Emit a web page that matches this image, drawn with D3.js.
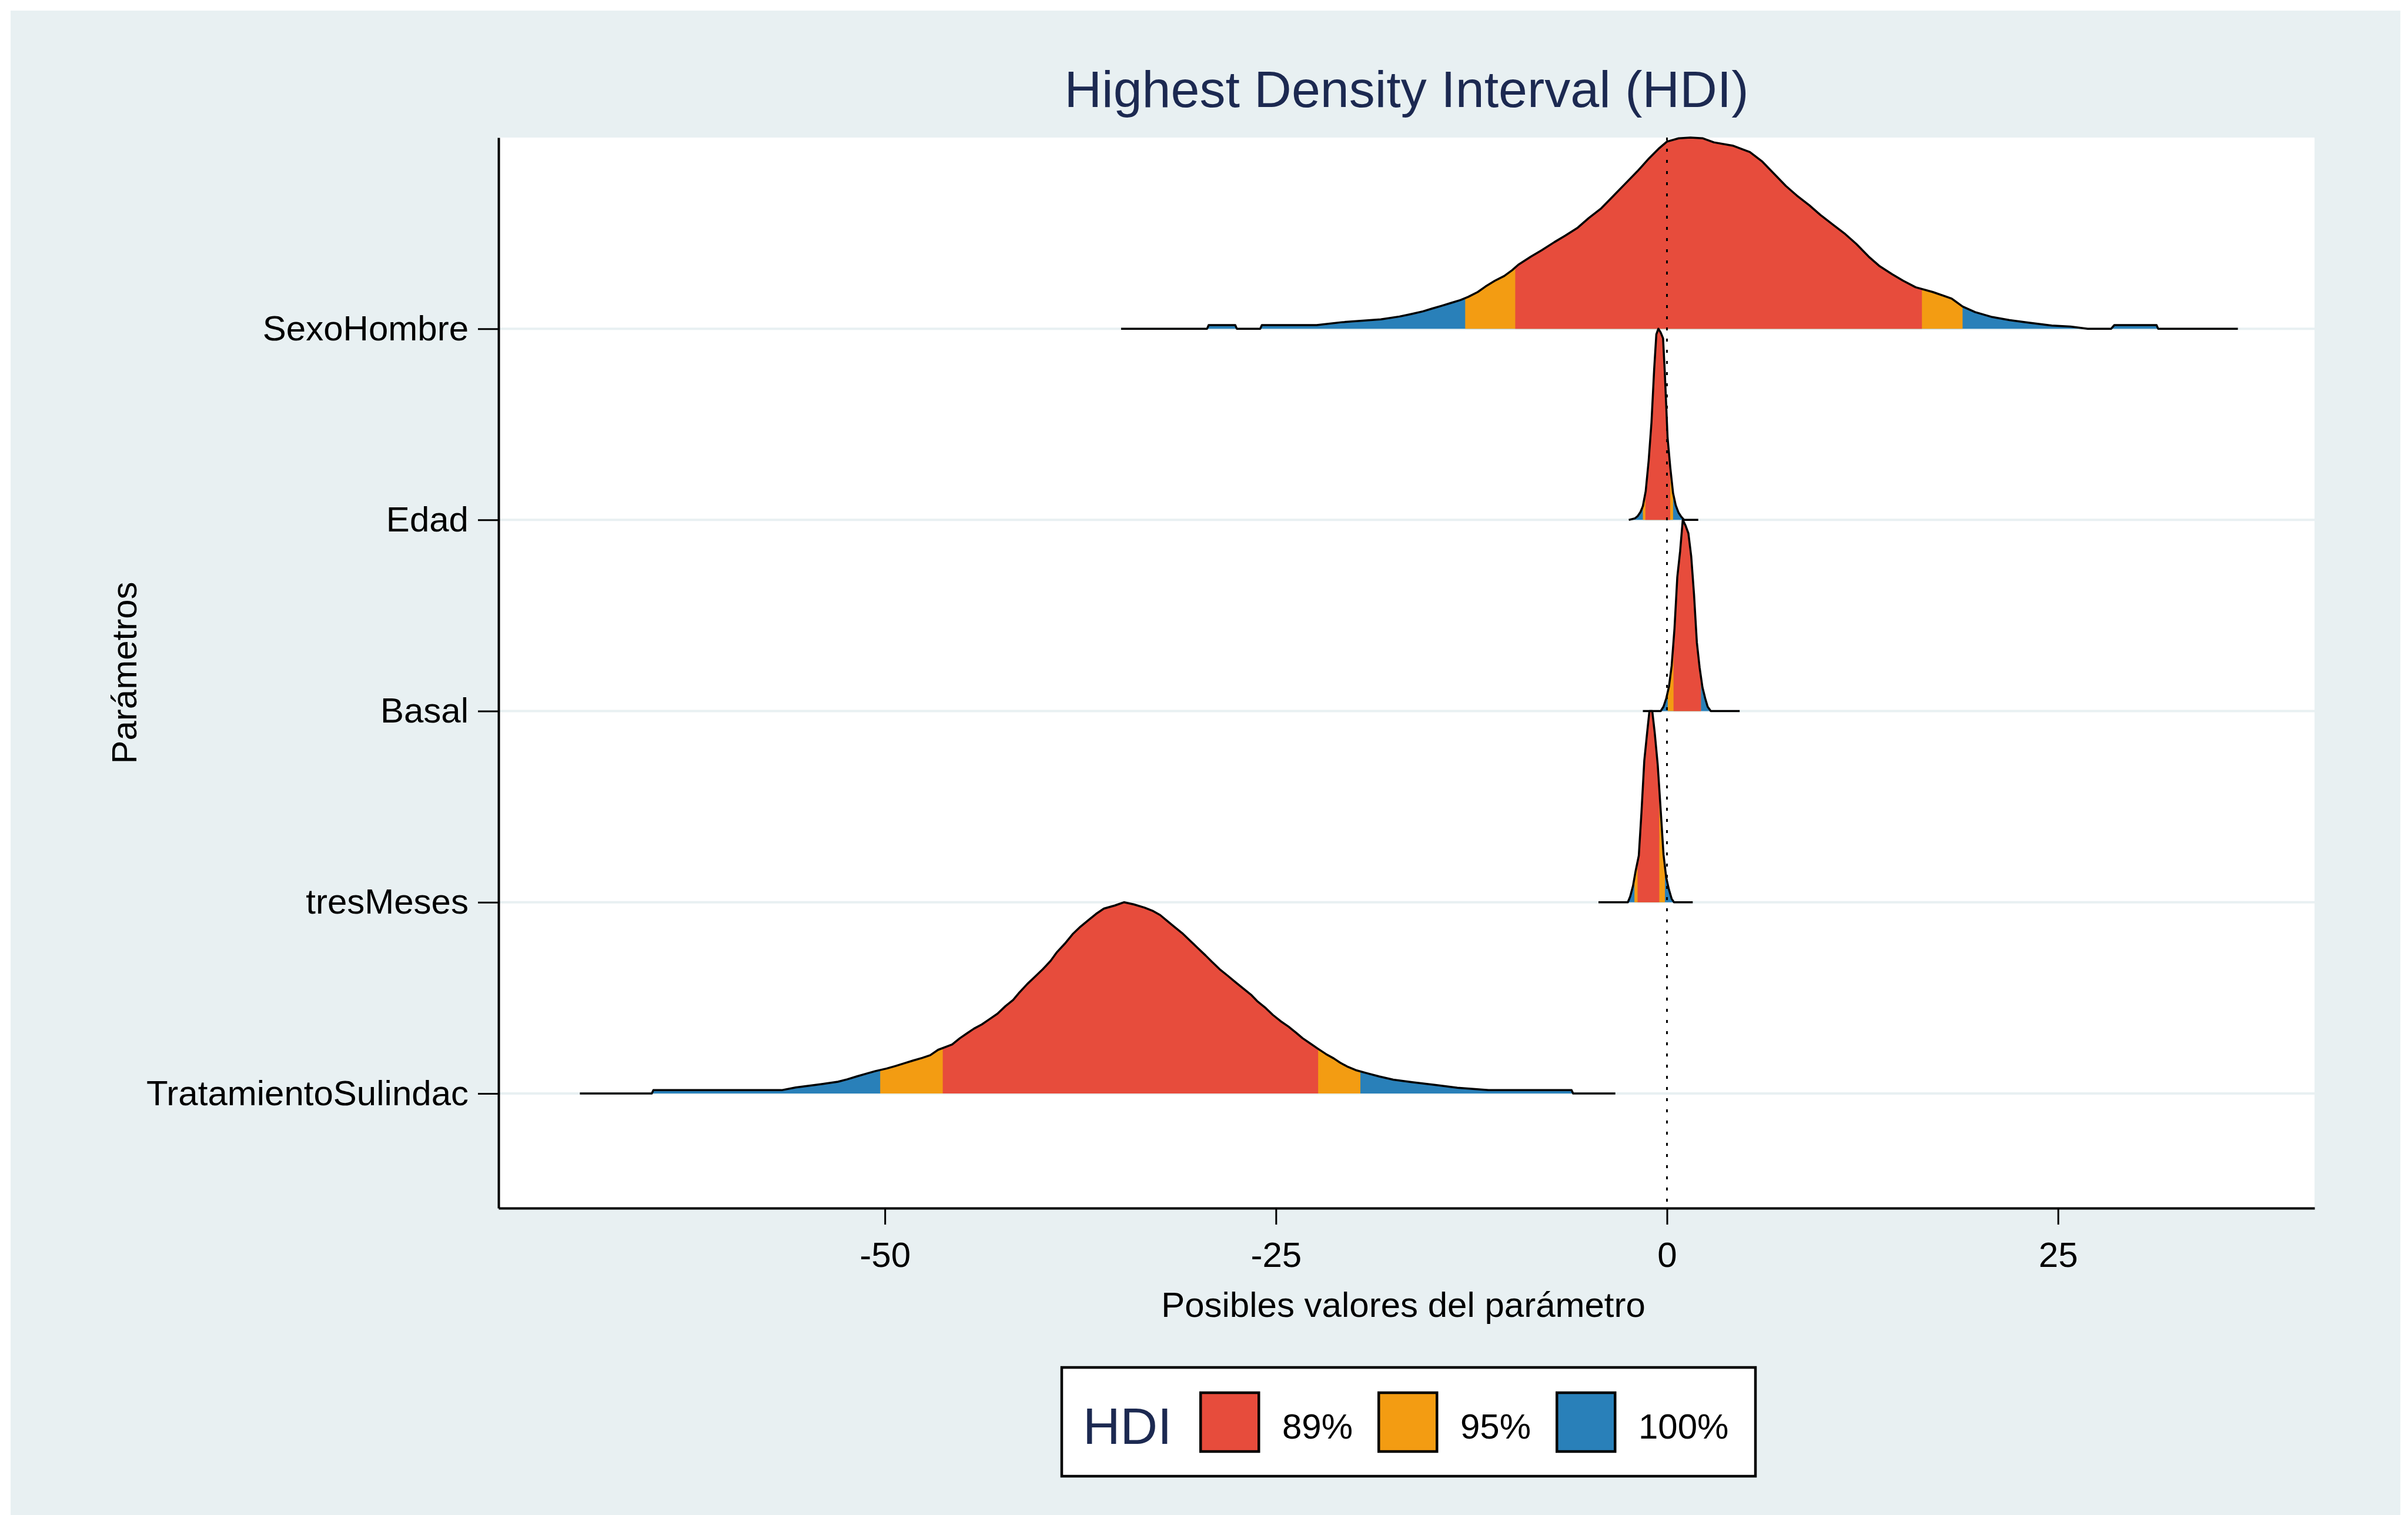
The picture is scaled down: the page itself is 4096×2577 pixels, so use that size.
<!DOCTYPE html>
<meta charset="utf-8">
<head>
  <title>Highest Density Interval (HDI)</title>
</head>
<style>
  html, body {
    margin: 0;
    padding: 0;
    background: #fff;
    overflow: hidden;
  }
  svg {
    display: block;
    font-family: Arial, "Liberation Sans", Helvetica, sans-serif;
  }
</style>
<body>
<svg id="chart" width="4096" height="2577"></svg>
<script src="https://cdn.jsdelivr.net/npm/d3@7"></script>
<script>
// parameters, bottom row first (row index = position + 1)
var params = ['TratamientoSulindac', 'tresMeses', 'Basal', 'Edad', 'SexoHombre'];

// posterior densities: [value, height relative to the peak]
var tratamientoSulindac = [
  [-69.5,0],[-64.9,0],[-64.8,0.017],[-56.6,0.017],[-55.7,0.031],[-54.1,0.048],[-53.0,0.061],
  [-52.4,0.074],[-51.8,0.089],[-51.2,0.103],[-50.6,0.117],[-49.9,0.13],[-49.3,0.144],[-48.7,0.159],
  [-48.2,0.172],[-47.6,0.186],[-47.1,0.2],[-46.6,0.228],[-45.7,0.256],[-45.2,0.289],[-44.7,0.317],
  [-44.3,0.339],[-43.8,0.361],[-43.3,0.389],[-42.8,0.417],[-42.3,0.456],[-41.8,0.489],[-41.4,0.528],
  [-40.9,0.572],[-40.4,0.611],[-39.9,0.65],[-39.4,0.694],[-39.0,0.739],[-38.5,0.783],[-38.0,0.833],
  [-37.5,0.872],[-37.0,0.906],[-36.5,0.939],[-36.0,0.967],[-35.3,0.983],[-34.7,1.0],[-34.1,0.989],
  [-33.4,0.972],[-32.9,0.956],[-32.4,0.933],[-32.0,0.906],[-31.5,0.872],[-31.0,0.839],[-30.5,0.8],
  [-30.0,0.761],[-29.5,0.722],[-29.1,0.689],[-28.6,0.65],[-28.1,0.617],[-27.6,0.583],[-27.1,0.55],
  [-26.6,0.517],[-26.2,0.483],[-25.7,0.45],[-25.2,0.411],[-24.7,0.378],[-24.2,0.35],[-23.7,0.317],
  [-23.3,0.289],[-22.8,0.261],[-22.3,0.233],[-21.8,0.206],[-21.3,0.183],[-20.9,0.161],[-20.4,0.139],
  [-19.9,0.122],[-19.2,0.106],[-18.4,0.089],[-17.5,0.072],[-16.3,0.059],[-14.8,0.044],[-13.4,0.03],
  [-11.4,0.017],[-6.1,0.017],[-6.0,0],[-3.3,0]
];
var tresMeses = [
  [-4.38,0],[-2.5,0],[-2.35,0.03],[-2.17,0.086],[-2.0,0.165],[-1.80,0.244],[-1.63,0.47],[-1.45,0.74],
  [-1.27,0.885],[-1.12,1.0],[-0.94,1.0],[-0.78,0.885],[-0.59,0.718],[-0.40,0.48],[-0.22,0.25],
  [-0.05,0.13],[0.12,0.068],[0.30,0.018],[0.45,0],[1.65,0]
];
var basal = [
  [-1.54,0],[-0.4,0],[-0.22,0.023],[-0.04,0.068],[0.13,0.129],[0.30,0.237],[0.48,0.43],[0.66,0.70],
  [0.84,0.835],[1.01,1.0],[1.19,0.97],[1.37,0.93],[1.55,0.81],[1.73,0.61],[1.91,0.36],[2.09,0.226],
  [2.27,0.124],[2.44,0.068],[2.60,0.023],[2.8,0],[4.65,0]
];
var edad = [
  [-2.44,0],[-2.05,0.008],[-1.87,0.02],[-1.7,0.04],[-1.54,0.072],[-1.36,0.15],[-1.17,0.31],[-0.99,0.51],
  [-0.82,0.785],[-0.68,0.97],[-0.55,1.0],[-0.40,0.98],[-0.25,0.95],[-0.14,0.774],[0.04,0.43],
  [0.21,0.276],[0.39,0.14],[0.56,0.077],[0.74,0.038],[0.92,0.016],[1.1,0],[2.0,0]
];
var sexoHombre = [
  [-34.9,0],[-29.4,0],[-29.3,0.019],[-27.6,0.019],[-27.5,0],[-26.0,0],[-25.9,0.019],[-22.4,0.019],
  [-20.8,0.034],[-18.3,0.049],[-17.1,0.064],[-16.4,0.076],[-15.6,0.091],[-15.0,0.106],[-14.4,0.12],
  [-13.8,0.135],[-13.2,0.15],[-12.7,0.167],[-12.1,0.192],[-11.6,0.221],[-11.0,0.251],[-10.4,0.276],
  [-9.9,0.306],[-9.5,0.335],[-8.7,0.377],[-8.0,0.411],[-7.2,0.453],[-6.5,0.487],[-5.7,0.529],
  [-5.0,0.579],[-4.2,0.63],[-3.4,0.697],[-2.7,0.756],[-1.9,0.823],[-1.15,0.891],[-0.54,0.941],
  [0.0,0.979],[0.75,0.996],[1.5,1.0],[2.3,0.996],[3.0,0.975],[4.2,0.958],[5.3,0.924],[6.1,0.874],
  [6.8,0.815],[7.6,0.747],[8.3,0.697],[9.1,0.646],[9.8,0.596],[10.6,0.545],[11.4,0.495],[12.1,0.444],
  [12.9,0.377],[13.6,0.327],[14.4,0.285],[15.1,0.251],[15.9,0.217],[17.0,0.192],[18.2,0.158],
  [18.9,0.116],[19.7,0.087],[20.8,0.061],[21.9,0.045],[23.1,0.032],[24.6,0.017],[25.8,0.011],
  [26.9,0],[28.4,0],[28.6,0.019],[31.3,0.019],[31.4,0],[36.5,0]
];
var densities = [tratamientoSulindac, tresMeses, basal, edad, sexoHombre];

// HDI limits, same order as params
var hdi89 = [[-46.3,-22.3],[-1.88,-0.49],[0.42,2.17],[-1.38,0.21],[-9.7,16.3]];
var hdi95 = [[-50.3,-19.6],[-2.08,-0.13],[0.05,2.17],[-1.54,0.39],[-12.9,18.9]];

var xTicks = [-50, -25, 0, 25];
var legendLabels = ['89%', '95%', '100%'];
var legendColors = ['#e74c3c', '#f39c12', '#2980b9'];

var svg = d3.select('#chart');
var plot = {left: 848, right: 3937, top: 234, bottom: 2055};
var bg = '#e8f0f2';

svg.append('rect').attr('x', 18).attr('y', 18).attr('width', 4065).attr('height', 2577 - 18).attr('fill', bg);
svg.append('rect')
  .attr('x', plot.left).attr('y', plot.top)
  .attr('width', plot.right - plot.left).attr('height', plot.bottom - plot.top)
  .attr('fill', '#fff');

var x = d3.scaleLinear().domain([-74.7, 41.4]).range([plot.left, plot.right]);
var y = d3.scaleLinear().domain([0.4, 6.0]).range([plot.bottom, plot.top]);

// grid lines at each ridge baseline
svg.append('g').selectAll('line').data(params).enter().append('line')
  .attr('x1', plot.left).attr('x2', plot.right)
  .attr('y1', function(d, i) { return y(i + 1); })
  .attr('y2', function(d, i) { return y(i + 1); })
  .attr('stroke', bg).attr('stroke-width', 4);

var defs = svg.append('defs');
var ridges = svg.append('g');

// draw top row first so lower rows sit on top
d3.range(params.length - 1, -1, -1).forEach(function(i) {
  var pts = densities[i];
  var base = i + 1;
  var area = d3.area()
    .x(function(d) { return x(d[0]); })
    .y0(y(base))
    .y1(function(d) { return y(base + d[1]); });
  var line = d3.line()
    .x(function(d) { return x(d[0]); })
    .y(function(d) { return y(base + d[1]); });

  [['c95', hdi95[i]], ['c89', hdi89[i]]].forEach(function(c) {
    defs.append('clipPath').attr('id', c[0] + '_' + i)
      .append('rect')
      .attr('x', x(c[1][0])).attr('width', x(c[1][1]) - x(c[1][0]))
      .attr('y', plot.top - 50).attr('height', plot.bottom - plot.top + 100);
  });

  var g = ridges.append('g');
  g.append('path').datum(pts).attr('d', area).attr('fill', legendColors[2]);
  g.append('path').datum(pts).attr('d', area).attr('fill', legendColors[1])
    .attr('clip-path', 'url(#c95_' + i + ')');
  g.append('path').datum(pts).attr('d', area).attr('fill', legendColors[0])
    .attr('clip-path', 'url(#c89_' + i + ')');
  g.append('path').datum(pts).attr('d', line)
    .attr('fill', 'none').attr('stroke', '#000').attr('stroke-width', 3.5)
    .attr('stroke-linejoin', 'round');
});

// dotted reference line at zero
svg.append('line')
  .attr('x1', x(0)).attr('x2', x(0))
  .attr('y1', plot.top).attr('y2', plot.bottom)
  .attr('stroke', '#000').attr('stroke-width', 3)
  .attr('stroke-dasharray', '5,14');

// axes
var xAxis = svg.append('g')
  .attr('transform', 'translate(0,' + plot.bottom + ')')
  .call(d3.axisBottom(x).tickValues(xTicks).tickFormat(function(d) { return String(d); })
    .tickSize(28).tickPadding(29).tickSizeOuter(0));
var yAxis = svg.append('g')
  .attr('transform', 'translate(' + plot.left + ',0)')
  .call(d3.axisLeft(y).tickValues([1, 2, 3, 4, 5]).tickFormat(function(d) { return params[d - 1]; })
    .tickSize(35).tickPadding(16).tickSizeOuter(0));

[xAxis, yAxis].forEach(function(a) {
  a.select('.domain').attr('stroke', '#000').attr('stroke-width', 4);
  a.selectAll('.tick line').attr('stroke', '#000').attr('stroke-width', 3);
  a.selectAll('.tick text').attr('fill', '#000').attr('font-size', 60)
    .attr('font-family', 'Arial, "Liberation Sans", sans-serif');
});

// titles
svg.append('text')
  .attr('x', (plot.left + plot.right) / 2).attr('y', 182)
  .attr('text-anchor', 'middle').attr('font-size', 88).attr('fill', '#1c2951')
  .text('Highest Density Interval (HDI)');
svg.append('text')
  .attr('x', 2387).attr('y', 2240)
  .attr('text-anchor', 'middle').attr('font-size', 60).attr('fill', '#000')
  .text('Posibles valores del parámetro');
svg.append('text')
  .attr('transform', 'translate(232,' + (plot.top + plot.bottom) / 2 + ') rotate(-90)')
  .attr('text-anchor', 'middle').attr('font-size', 60).attr('fill', '#000')
  .text('Parámetros');

// legend
var legend = svg.append('g');
legend.append('rect')
  .attr('x', 1806).attr('y', 2326).attr('width', 1180).attr('height', 185)
  .attr('fill', '#fff').attr('stroke', '#000').attr('stroke-width', 4.5);
legend.append('text')
  .attr('x', 1842).attr('y', 2456).attr('font-size', 88).attr('fill', '#1c2951')
  .text('HDI');
var items = legend.selectAll('g.item').data(legendLabels).enter().append('g')
  .attr('class', 'item')
  .attr('transform', function(d, i) { return 'translate(' + (2040 + i * 303) + ',0)'; });
items.append('rect')
  .attr('x', 2.25).attr('y', 2369).attr('width', 99).attr('height', 100)
  .attr('fill', function(d, i) { return legendColors[i]; })
  .attr('stroke', '#000').attr('stroke-width', 4.5);
items.append('text')
  .attr('x', 141).attr('y', 2447).attr('font-size', 60).attr('fill', '#000')
  .text(function(d) { return d; });
</script>
</body>
